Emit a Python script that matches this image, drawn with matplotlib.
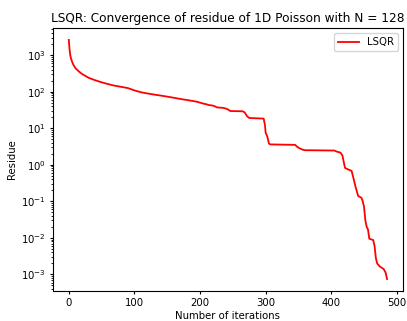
import numpy as np
from matplotlib import pyplot as plt

# residue (iteration, residue)
iters = [0, 1, 2, 3, 5, 7, 10, 15, 20, 30, 40, 50, 60, 70, 80, 90,
         100, 110, 120, 130, 140, 150, 160, 170, 180, 190, 195, 200,
         205, 210, 213, 218, 222, 226, 235, 238, 242, 246, 265, 268,
         272, 275, 297, 299, 300, 302, 303, 305, 307, 345, 348, 352,
         356, 360, 405, 408, 414, 417, 419, 421, 426, 431, 434, 437,
         441, 446, 448, 450, 452, 454, 456, 458, 464, 466, 468, 470,
         474, 480, 483, 485]
residue = [2600, 1500, 1050, 850, 650, 540, 440, 360, 305, 240, 205, 180,
           160, 145, 135, 125, 108, 96, 89, 83, 78, 73, 68, 63, 59, 55,
           53, 50, 47, 45, 43, 42, 40, 37, 36, 35, 33, 29.5, 29, 27,
           21, 19, 18.3, 12, 7.5, 6.2, 5.5, 3.8, 3.6, 3.5, 3.1, 2.8, 2.6,
           2.5, 2.45, 2.3, 2.15, 1.8, 1.2, 0.82, 0.74, 0.68, 0.42, 0.25,
           0.14, 0.125, 0.1, 0.07, 0.03, 0.02, 0.017, 0.0095, 0.0087,
           0.006, 0.0028, 0.002, 0.00165, 0.0014, 0.0011, 0.00075]


def main():
    fig, ax = plt.subplots(figsize=(4.07, 3.21), dpi=100)
    ax.plot(iters, residue, color='red', lw=1.3, label='LSQR')
    ax.set_yscale('log')
    ax.set_title('LSQR: Convergence of residue of 1D Poisson with N = 128',
                 fontsize=8.7, pad=4.5)
    ax.set_xlabel('Number of iterations', fontsize=7.3, labelpad=2)
    ax.set_ylabel('Residue', fontsize=7.3, labelpad=3)
    ax.tick_params(which='major', labelsize=7.3, length=2.5, pad=2.5)
    ax.tick_params(which='minor', length=1.5)
    ax.legend(fontsize=7.3, loc='upper right')
    fig.subplots_adjust(left=0.130, right=0.990, top=0.913, bottom=0.0935)
    fig.savefig('out.png')


main()
